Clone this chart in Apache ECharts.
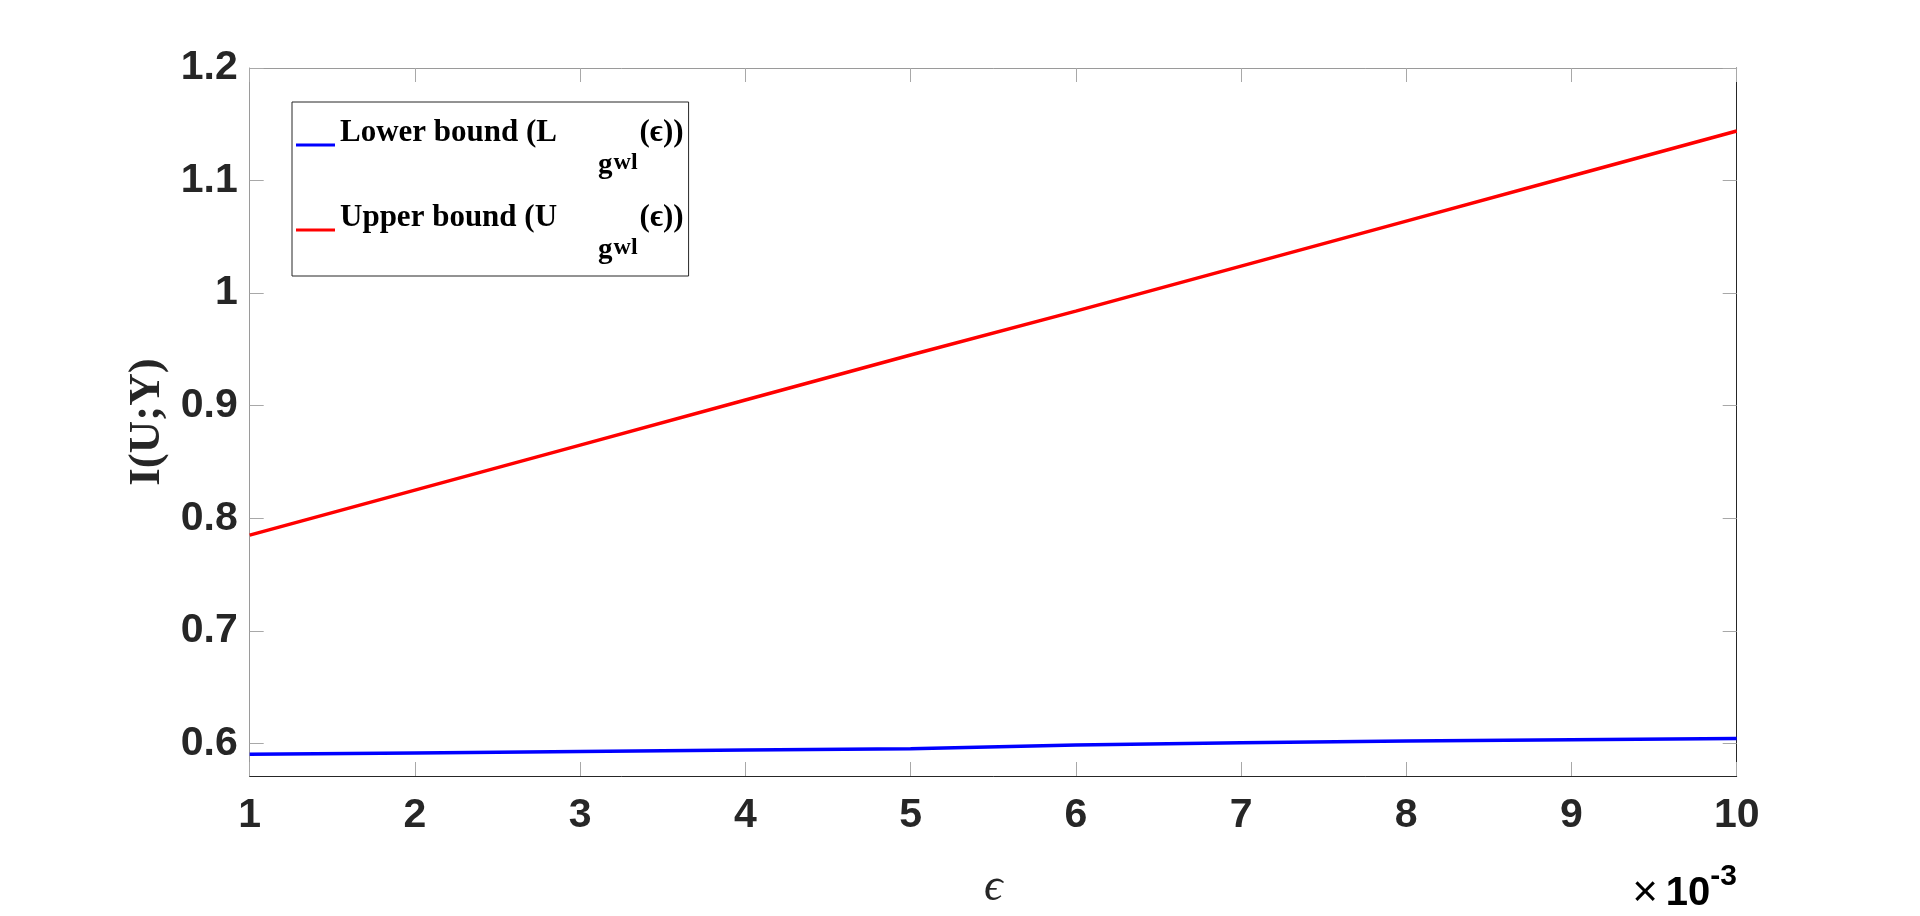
<!DOCTYPE html>
<html>
<head>
<meta charset="utf-8">
<script src="https://cdn.jsdelivr.net/npm/echarts@6/dist/echarts.min.js"></script>
<style>
html,body{margin:0;padding:0;background:#fff;}
#chart{width:1920px;height:916px;}
</style>
</head>
<body>
<div id="chart"></div>
<script>
// epsilon values (x 10^-3)
var epsilon = [1, 2, 3, 4, 5, 6, 7, 8, 9, 10];
var lowerBound = [0.5903, 0.5914, 0.5927, 0.5940, 0.5953, 0.5986, 0.6006, 0.6021, 0.6033, 0.6044];
var upperBound = [0.785, 0.825, 0.865, 0.905, 0.945, 0.984, 1.024, 1.064, 1.104, 1.144];
var yTicks = [0.6, 0.7, 0.8, 0.9, 1.0, 1.1, 1.2];
var xTicks = [1, 2, 3, 4, 5, 6, 7, 8, 9, 10];
var seriesNames = ['Lower bound', 'Upper bound'];
var legendLabels = {
  'Lower bound': '{t|Lower bound (L}{g|g}{w|wl}{t|(ϵ))}',
  'Upper bound': '{t|Upper bound (U}{g|g}{w|wl}{t|(ϵ))}'
};

function pairs(xs, ys) { return xs.map(function (x, i) { return [x, ys[i]]; }); }

var dark = '#262626';
var grayLine = '#9a9a9a';
var tickStyle = { show: true, inside: true, length: 14, lineStyle: { color: '#a8a8a8', width: 1 } };
var serif = 'Liberation Serif, Times New Roman, serif';
var sans = 'Liberation Sans, Arial, sans-serif';

var chart = echarts.init(document.getElementById('chart'), null, { renderer: 'canvas' });
chart.setOption({
  animation: false,
  backgroundColor: '#ffffff',
  grid: { left: 249.7, right: 183.3, top: 68, bottom: 132, containLabel: false },
  xAxis: [{
    type: 'value', min: 1, max: 10, interval: 1, position: 'bottom',
    axisLine: { show: true, onZero: false, lineStyle: { color: dark, width: 1 } },
    axisTick: Object.assign({}, tickStyle, { customValues: xTicks }),
    axisLabel: { customValues: xTicks, margin: 19, color: dark, fontFamily: sans, fontWeight: 'bold', fontSize: 41 },
    splitLine: { show: false },
    name: 'ϵ', nameLocation: 'middle', nameGap: 89,
    nameTextStyle: { fontFamily: 'Liberation Serif, DejaVu Serif, serif', fontStyle: 'italic', fontSize: 46, color: dark }
  }, {
    type: 'value', min: 1, max: 10, interval: 1, position: 'top',
    axisLine: { show: true, onZero: false, lineStyle: { color: grayLine, width: 1 } },
    axisTick: Object.assign({}, tickStyle, { customValues: xTicks }),
    axisLabel: { show: false },
    splitLine: { show: false }
  }],
  yAxis: [{
    type: 'value', min: 0.571, max: 1.2, position: 'left',
    axisLine: { show: true, onZero: false, lineStyle: { color: grayLine, width: 1 } },
    axisTick: Object.assign({}, tickStyle, { customValues: yTicks }),
    axisLabel: {
      customValues: yTicks, margin: 12, color: dark,
      fontFamily: sans, fontWeight: 'bold', fontSize: 41,
      formatter: function (v) { return (Math.round(v * 10) / 10).toString(); }
    },
    splitLine: { show: false },
    name: 'I(U;Y)', nameLocation: 'middle', nameGap: 78, nameRotate: 90,
    nameTextStyle: { fontFamily: serif, fontWeight: 'bold', fontSize: 45, color: dark }
  }, {
    type: 'value', min: 0.571, max: 1.2, position: 'right',
    axisLine: { show: true, onZero: false, lineStyle: { color: dark, width: 1 } },
    axisTick: Object.assign({}, tickStyle, { customValues: yTicks }),
    axisLabel: { show: false },
    splitLine: { show: false }
  }],
  legend: {
    orient: 'vertical', left: 292, top: 102,
    padding: [11, 5, 11, 4], itemGap: 18,
    itemWidth: 39, itemHeight: 3, icon: 'rect',
    borderColor: dark, borderWidth: 1, backgroundColor: '#ffffff',
    data: seriesNames,
    formatter: function (name) { return legendLabels[name]; },
    textStyle: {
      lineHeight: 64,
      rich: {
        t: { fontFamily: serif, fontWeight: 'bold', fontSize: 31, color: '#000', height: 40, lineHeight: 64, verticalAlign: 'top' },
        g: { fontFamily: serif, fontWeight: 'bold', fontSize: 29, color: '#000', height: 23, verticalAlign: 'bottom', padding: [0, 0, 0, 41] },
        w: { fontFamily: serif, fontWeight: 'bold', fontSize: 24, color: '#000', height: 28, verticalAlign: 'bottom', padding: [0, 2, 0, 1] }
      }
    }
  },
  graphic: [{
    type: 'text', x: 1737, y: 914, silent: true,
    style: {
      text: '{a|×}{b|10}{c|-3}', align: 'right', verticalAlign: 'bottom',
      rich: {
        a: { fontFamily: sans, fontSize: 44, color: dark, height: 40, lineHeight: 60, verticalAlign: 'bottom', padding: [0, 8, 0, 0] },
        b: { fontFamily: sans, fontWeight: 'bold', fontSize: 40, color: dark, height: 40, lineHeight: 60, verticalAlign: 'bottom' },
        c: { fontFamily: sans, fontWeight: 'bold', fontSize: 30, color: dark, height: 46, verticalAlign: 'top' }
      }
    }
  }],
  series: [{
    name: seriesNames[0], type: 'line', xAxisIndex: 0, yAxisIndex: 0,
    data: pairs(epsilon, lowerBound), showSymbol: false, symbol: 'none',
    color: '#0000ff', lineStyle: { color: '#0000ff', width: 3.5 }
  }, {
    name: seriesNames[1], type: 'line', xAxisIndex: 0, yAxisIndex: 0,
    data: pairs(epsilon, upperBound), showSymbol: false, symbol: 'none',
    color: '#ff0000', lineStyle: { color: '#ff0000', width: 3.5 }
  }]
});
</script>
</body>
</html>
